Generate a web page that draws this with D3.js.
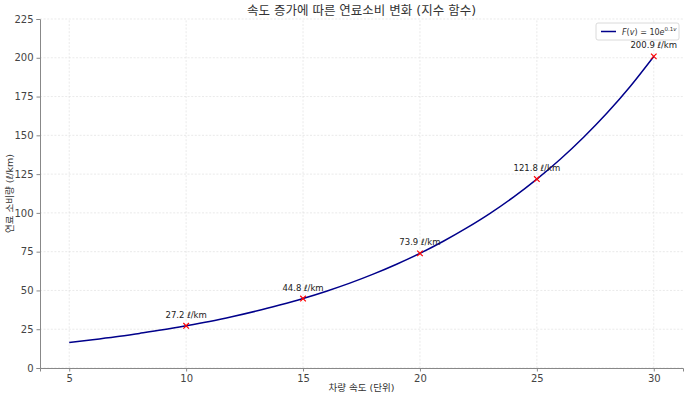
<!DOCTYPE html>
<html>
<head>
<meta charset="utf-8">
<script src="https://cdn.jsdelivr.net/npm/d3@7"></script>
<style>
  body { margin: 0; background: #fff; }
  svg text { font-family: "DejaVu Sans", "Noto Sans CJK KR", sans-serif; }
</style>
</head>
<body>
<div id="chart"></div>
<script>
//curve samples (speed, consumption)
let speeds = [5, 6, 7, 8, 9, 10, 11, 12, 13, 14, 15, 16, 17, 18, 19, 20,
              21, 22, 23, 24, 25, 26, 27, 28, 29, 30];
let consumption = [16.5, 18.2, 20.1, 22.3, 24.6, 27.2, 30.0, 33.2, 36.7, 40.6, 44.8,
                   49.5, 54.7, 60.5, 66.9, 73.9, 81.7, 90.3, 99.7, 110.2, 121.8,
                   134.6, 148.8, 164.4, 181.7, 200.9];

//marked points
let markSpeeds = [10, 15, 20, 25, 30];
let markValues = [27.2, 44.8, 73.9, 121.8, 200.9];

//ticks
let xTicks = [5, 10, 15, 20, 25, 30];
let yTicks = [0, 25, 50, 75, 100, 125, 150, 175, 200, 225];

let width = 687, height = 396;
let margin = {top: 19, right: 4, bottom: 28, left: 40};

let svg = d3.select("#chart")
            .append("svg")
            .attr("width", width)
            .attr("height", height);

let x = d3.scaleLinear()
          .domain([3.75, 31.25])
          .range([margin.left, width - margin.right]);

let y = d3.scaleLinear()
          .domain([0, 225])
          .range([height - margin.bottom, margin.top]);

//grid
let grid = svg.append("g").attr("stroke", "#dcdcdc").attr("stroke-width", 0.6)
              .attr("stroke-dasharray", "2,1.6");
grid.selectAll(".gx").data(xTicks).enter().append("line")
    .attr("x1", d => x(d)).attr("x2", d => x(d))
    .attr("y1", y(0)).attr("y2", y(225));
grid.selectAll(".gy").data(yTicks).enter().append("line")
    .attr("x1", x(3.75)).attr("x2", x(31.25))
    .attr("y1", d => y(d)).attr("y2", d => y(d));

//axes
let xAxis = svg.append("g")
               .attr("transform", `translate(0,${y(0)})`)
               .call(d3.axisBottom(x).tickValues(xTicks).tickSize(3.5).tickPadding(3));
let yAxis = svg.append("g")
               .attr("transform", `translate(${x(3.75)},0)`)
               .call(d3.axisLeft(y).tickValues(yTicks).tickSize(3.5).tickPadding(3));
[xAxis, yAxis].forEach(function(a) {
  a.select(".domain").attr("stroke", "#888").attr("stroke-width", 1);
  a.selectAll(".tick line").attr("stroke", "#888");
  a.selectAll(".tick text").attr("fill", "#444").style("font-size", "10px");
});

//curve
let line = d3.line()
             .x(function(d, i) { return x(speeds[i]) })
             .y(function(d) { return y(d) })
             .curve(d3.curveMonotoneX);
svg.append("path")
   .datum(consumption)
   .attr("fill", "none")
   .attr("stroke", "#00008b")
   .attr("stroke-width", 1.5)
   .attr("d", line);

//x markers
let marks = svg.append("g").attr("stroke", "red").attr("stroke-width", 1.2);
markSpeeds.forEach(function(s, i) {
  let cx = x(s), cy = y(markValues[i]), r = 2.8;
  marks.append("line").attr("x1", cx - r).attr("y1", cy - r).attr("x2", cx + r).attr("y2", cy + r);
  marks.append("line").attr("x1", cx - r).attr("y1", cy + r).attr("x2", cx + r).attr("y2", cy - r);
});

//value labels
svg.append("g").selectAll("text").data(markValues).enter().append("text")
   .attr("x", function(d, i) { return x(markSpeeds[i]) })
   .attr("y", function(d) { return y(d) - 8 })
   .attr("text-anchor", "middle")
   .style("font-size", "8.5px")
   .attr("fill", "#222")
   .text(function(d) { return d.toFixed(1) + " ℓ/km" });

//title and axis labels
svg.append("text")
   .attr("x", (margin.left + width - margin.right) / 2)
   .attr("y", 15)
   .attr("text-anchor", "middle")
   .style("font-size", "12.5px")
   .attr("fill", "#333")
   .text("속도 증가에 따른 연료소비 변화 (지수 함수)");

svg.append("text")
   .attr("x", (margin.left + width - margin.right) / 2)
   .attr("y", 391)
   .attr("text-anchor", "middle")
   .style("font-size", "9.5px")
   .attr("fill", "#333")
   .text("차량 속도 (단위)");

svg.append("text")
   .attr("transform", `translate(13,${(y(0) + y(225)) / 2}) rotate(-90)`)
   .attr("text-anchor", "middle")
   .style("font-size", "9.5px")
   .attr("fill", "#333")
   .text("연료 소비량 (ℓ/km)");

//legend
let legend = svg.append("g").attr("transform", "translate(596,23)");
legend.append("rect")
      .attr("width", 83).attr("height", 17).attr("rx", 2)
      .attr("fill", "#fff").attr("fill-opacity", 0.85)
      .attr("stroke", "#d0d0d0").attr("stroke-width", 0.8);
legend.append("line")
      .attr("x1", 5).attr("x2", 20).attr("y1", 8.5).attr("y2", 8.5)
      .attr("stroke", "#00008b").attr("stroke-width", 1.5);
let lt = legend.append("text")
               .attr("x", 26).attr("y", 11.5)
               .style("font-size", "8px")
               .attr("fill", "#333");
lt.append("tspan").style("font-style", "italic").text("F");
lt.append("tspan").text("(");
lt.append("tspan").style("font-style", "italic").text("v");
lt.append("tspan").text(") = 10");
lt.append("tspan").style("font-style", "italic").text("e");
lt.append("tspan").attr("dy", -3.5).style("font-size", "5.5px").text("0.1");
lt.append("tspan").style("font-size", "5.5px").style("font-style", "italic").text("v");
</script>
</body>
</html>
